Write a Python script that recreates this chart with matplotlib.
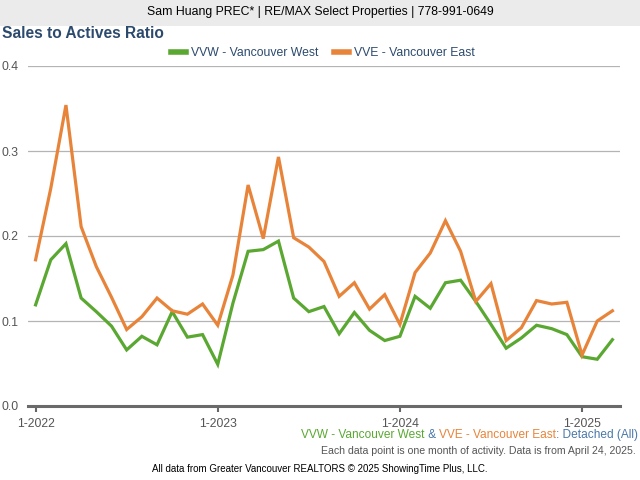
import matplotlib.pyplot as plt
from matplotlib.patches import Rectangle
from matplotlib.lines import Line2D
from matplotlib.offsetbox import TextArea, HPacker, AnnotationBbox

plt.rcParams['font.family'] = ['Liberation Sans', 'DejaVu Sans']

# monthly data, Jan 2022 .. Mar 2025
months = list(range(39))
tick_pos = [0, 12, 24, 36]
tick_labels = ["1-2022", "1-2023", "1-2024", "1-2025"]

vvw = [0.119, 0.172, 0.191, 0.127, 0.111, 0.094, 0.066, 0.082, 0.072, 0.111,
       0.081, 0.084, 0.049, 0.121, 0.182, 0.184, 0.194, 0.127, 0.111, 0.117,
       0.085, 0.110, 0.089, 0.077, 0.082, 0.129, 0.115, 0.145, 0.148, 0.123,
       0.096, 0.068, 0.080, 0.095, 0.091, 0.084, 0.058, 0.055, 0.078]
vve = [0.172, 0.256, 0.354, 0.211, 0.164, 0.128, 0.090, 0.105, 0.127, 0.112,
       0.108, 0.120, 0.095, 0.154, 0.260, 0.197, 0.293, 0.198, 0.187, 0.170,
       0.129, 0.145, 0.114, 0.131, 0.096, 0.157, 0.180, 0.218, 0.182, 0.123,
       0.144, 0.077, 0.092, 0.124, 0.120, 0.122, 0.060, 0.100, 0.112]

GREEN = '#5aa832'
ORANGE = '#e8843a'
NAVY = '#2c4a6e'
BLUE = '#4a78a8'

fig = plt.figure(figsize=(6.4, 4.8), dpi=100)
fig.patch.set_facecolor('white')

# header banner
fig.patches.append(Rectangle((0, 1 - 26 / 480), 1, 26 / 480, transform=fig.transFigure,
                             facecolor='#ebebeb', edgecolor='none', zorder=0))
fig.text(0.5, 1 - 12 / 480, "Sam Huang PREC* | RE/MAX Select Properties | 778-991-0649",
         ha='center', va='center', fontsize=8.8, color='black')
fig.text(2 / 640, 1 - 33 / 480, "Sales to Actives Ratio", ha='left', va='center',
         fontsize=11.2, fontweight='bold', color=NAVY)

ax = fig.add_axes([28 / 640, 1 - 406 / 480, 592 / 640, 340 / 480])
ax.plot(months, vvw, color=GREEN, lw=2.3, solid_joinstyle='miter', zorder=3)
ax.plot(months, vve, color=ORANGE, lw=2.3, solid_joinstyle='miter', zorder=3)

ax.set_xlim(-0.5, 38.5)
ax.set_ylim(0, 0.4)
ax.set_yticks([0.0, 0.1, 0.2, 0.3, 0.4])
ax.set_yticklabels(["0.0", "0.1", "0.2", "0.3", "0.4"])
ax.set_xticks(tick_pos)
ax.set_xticklabels(tick_labels)
ax.yaxis.grid(True, color='#b4b4b4', lw=0.9)
ax.set_axisbelow(True)
ax.tick_params(axis='y', length=0, pad=19, labelsize=8.8, labelcolor='#555555')
for lab in ax.get_yticklabels():
    lab.set_ha('left')
    lab.set_va('center_baseline')
ax.tick_params(axis='x', length=4, width=1.5, color='#666666', pad=4.5,
               labelsize=8.8, labelcolor='#555555')
for s in ['top', 'right', 'left']:
    ax.spines[s].set_visible(False)
ax.spines['bottom'].set_color('#6a6a6a')
ax.spines['bottom'].set_linewidth(2.2)

# legend
handles = [Line2D([], [], color=GREEN, lw=4), Line2D([], [], color=ORANGE, lw=4)]
fig.legend(handles, ["VVW - Vancouver West", "VVE - Vancouver East"], loc='center',
           bbox_to_anchor=(323 / 640, 1 - 53 / 480), ncol=2, frameon=False,
           fontsize=8.8, labelcolor=NAVY, handlelength=1.2, handletextpad=0.4,
           columnspacing=1.3)

# footer caption with coloured parts
parts = [("VVW - Vancouver West", GREEN), (" & ", BLUE),
         ("VVE - Vancouver East", ORANGE), (": Detached (All)", BLUE)]
areas = [TextArea(t, textprops=dict(color=c, fontsize=8.6)) for t, c in parts]
box = HPacker(children=areas, pad=0, sep=0, align='baseline')
ab = AnnotationBbox(box, (638 / 640, 1 - 435 / 480), xycoords='figure fraction',
                    box_alignment=(1, 0.5), frameon=False, pad=0)
fig.add_artist(ab)

fig.text(636 / 640, 1 - 451 / 480,
         "Each data point is one month of activity. Data is from April 24, 2025.",
         ha='right', va='center', fontsize=7.6, color='#555555')
fig.text(320 / 640, 1 - 469 / 480,
         "All data from Greater Vancouver REALTORS \u00a9 2025 ShowingTime Plus, LLC.",
         ha='center', va='center', fontsize=7.0, color='black')

fig.savefig('out.png', dpi=100)
